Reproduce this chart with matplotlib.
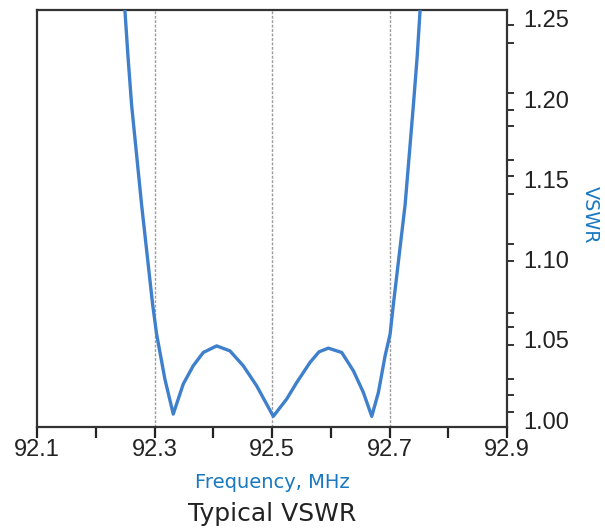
import matplotlib
matplotlib.use("Agg")
import matplotlib.pyplot as plt
from matplotlib.ticker import FixedLocator

# Data
freq = [92.2490, 92.2496, 92.2550, 92.2610, 92.2780, 92.2968, 92.3036, 92.3177, 92.3319,
        92.3489, 92.3659, 92.3830, 92.4058, 92.4284, 92.4511, 92.4739, 92.5022, 92.5250,
        92.5421, 92.5647, 92.5800, 92.5959, 92.6187, 92.6385, 92.6555, 92.6698, 92.6811,
        92.6925, 92.7010, 92.7066, 92.7266, 92.7407, 92.7470, 92.7521, 92.7527]
vswr = [1.2620, 1.2556, 1.2260, 1.1965, 1.1343, 1.0721, 1.0535, 1.0255, 1.0037,
        1.0224, 1.0338, 1.0421, 1.0462, 1.0431, 1.0338, 1.0213, 1.0023, 1.0131,
        1.0234, 1.0359, 1.0425, 1.0448, 1.0421, 1.0307, 1.0172, 1.0023, 1.0172,
        1.0400, 1.0535, 1.0721, 1.1343, 1.1965, 1.2260, 1.2556, 1.2620]

x_ticks = [92.1, 92.3, 92.5, 92.7, 92.9]
x_tick_labels = ["92.1", "92.3", "92.5", "92.7", "92.9"]
x_minor = [92.2, 92.4, 92.6, 92.8]
y_ticks = [1.00, 1.05, 1.10, 1.15, 1.20, 1.25]
y_tick_labels = ["1.00", "1.05", "1.10", "1.15", "1.20", "1.25"]
y_minor = [1.005, 1.0155, 1.0255, 1.0466, 1.058, 1.067, 1.099, 1.110, 1.141, 1.152,
           1.162, 1.183, 1.193, 1.204, 1.235, 1.246]
ref_lines = [92.3, 92.5, 92.7]

fig = plt.figure(figsize=(6.05, 5.29), dpi=100)
ax = fig.add_axes([37/605, 1 - 427/529, (507-37)/605, (427-10)/529])

for xv in ref_lines:
    ax.axvline(xv, color="#9a9a9a", lw=1.0, dashes=(2, 1.2), zorder=1)

ax.plot(freq, vswr, color="#3f80cc", lw=2.4, solid_joinstyle="round", zorder=3)

ax.set_xlim(92.1, 92.9)
ax.set_ylim(1.00 - 7/1608, 1.25 + 9/1608)

ax.yaxis.tick_right()
ax.yaxis.set_label_position("right")
ax.set_xticks(x_ticks)
ax.set_xticklabels(x_tick_labels)
ax.xaxis.set_minor_locator(FixedLocator(x_minor))
ax.set_yticks(y_ticks)
ax.set_yticklabels(y_tick_labels)
ax.yaxis.set_minor_locator(FixedLocator(y_minor))

for s in ax.spines.values():
    s.set_color("#333333")
    s.set_linewidth(1.6)

ax.tick_params(axis="x", which="both", direction="out", length=8, width=1.6,
               color="#222222", labelsize=17, labelcolor="#222222", pad=1)
ax.tick_params(axis="y", which="major", direction="out", length=0, labelsize=17,
               labelcolor="#222222", pad=12, right=True, left=False)
ax.tick_params(axis="y", which="minor", direction="out", length=5, width=1.4,
               color="#333333", right=True, left=False)
for lab in ax.get_xticklabels() + ax.get_yticklabels():
    lab.set_family("Liberation Sans")

fig.text(272/605, 1 - 483/529, "Frequency, MHz", color="#1878c0", fontsize=14,
         ha="center", va="center", family="DejaVu Sans")
fig.text(272/605, 1 - 514/529, "Typical VSWR", color="#222222", fontsize=18,
         ha="center", va="center", family="DejaVu Sans")
fig.text(590/605, 1 - 215/529, "VSWR", color="#1878c0", fontsize=13.8, rotation=270,
         ha="center", va="center", family="DejaVu Sans")

fig.savefig("out.png", dpi=100)
